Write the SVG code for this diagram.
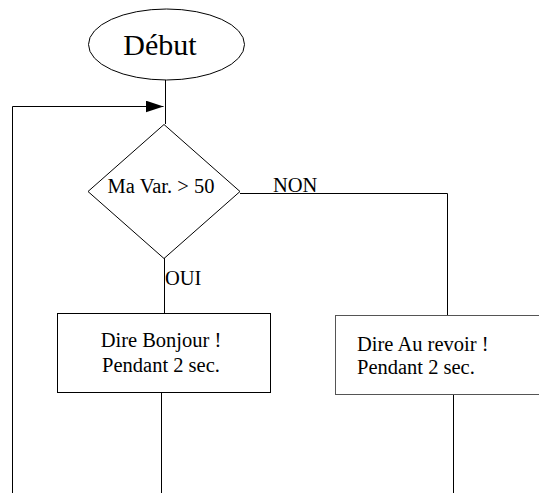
<svg xmlns="http://www.w3.org/2000/svg" width="539" height="493" viewBox="0 0 539 493">
<style>
.shape{fill:#ffffff;stroke:#000000;stroke-width:1}
.ln{fill:none;stroke:#000000;stroke-width:1}
.t{font-family:"Liberation Serif","Times New Roman",serif;font-size:20.5px;fill:#000000}
.big{font-size:30px}
</style>
<defs>
<marker id="arr" markerWidth="20" markerHeight="14" refX="18" refY="6" orient="auto" markerUnits="userSpaceOnUse">
<path d="M0,0 L18,6 L0,12 Z" fill="#000000"/>
</marker>
</defs>
<g id="connectors">
<path class="ln" d="M165.5,80 L165.5,124"/>
<path class="ln" d="M12.5,493 L12.5,106.5 L163.5,106.5" marker-end="url(#arr)"/>
<path class="ln" d="M240,193.5 L447.5,193.5 L447.5,315"/>
<path class="ln" d="M164.5,258 L164.5,313"/>
<path class="ln" d="M161.5,393 L161.5,493"/>
<path class="ln" d="M453.5,395 L453.5,493"/>
<text class="t" x="273" y="192">NON</text>
<text class="t" x="165" y="285">OUI</text>
</g>
<g id="debut">
<ellipse class="shape" cx="166.5" cy="44.5" rx="78" ry="35.5"/>
<text class="t big" x="160" y="55" text-anchor="middle">Début</text>
</g>
<g id="decision">
<polygon class="shape" points="164,124.5 240,191.5 164,258.5 88,191.5"/>
<text class="t" x="161" y="193" text-anchor="middle">Ma Var. &gt; 50</text>
</g>
<g id="bonjour">
<rect class="shape" x="57.5" y="313.5" width="213" height="79"/>
<text class="t" x="161" y="347" text-anchor="middle">Dire Bonjour !</text>
<text class="t" x="161" y="371.5" text-anchor="middle">Pendant 2 sec.</text>
</g>
<g id="aurevoir">
<rect class="shape" x="335.5" y="315.5" width="215" height="79" style="stroke:#555555"/>
<text class="t" x="357" y="350.5">Dire Au revoir !</text>
<text class="t" x="357" y="374">Pendant 2 sec.</text>
</g>
</svg>
